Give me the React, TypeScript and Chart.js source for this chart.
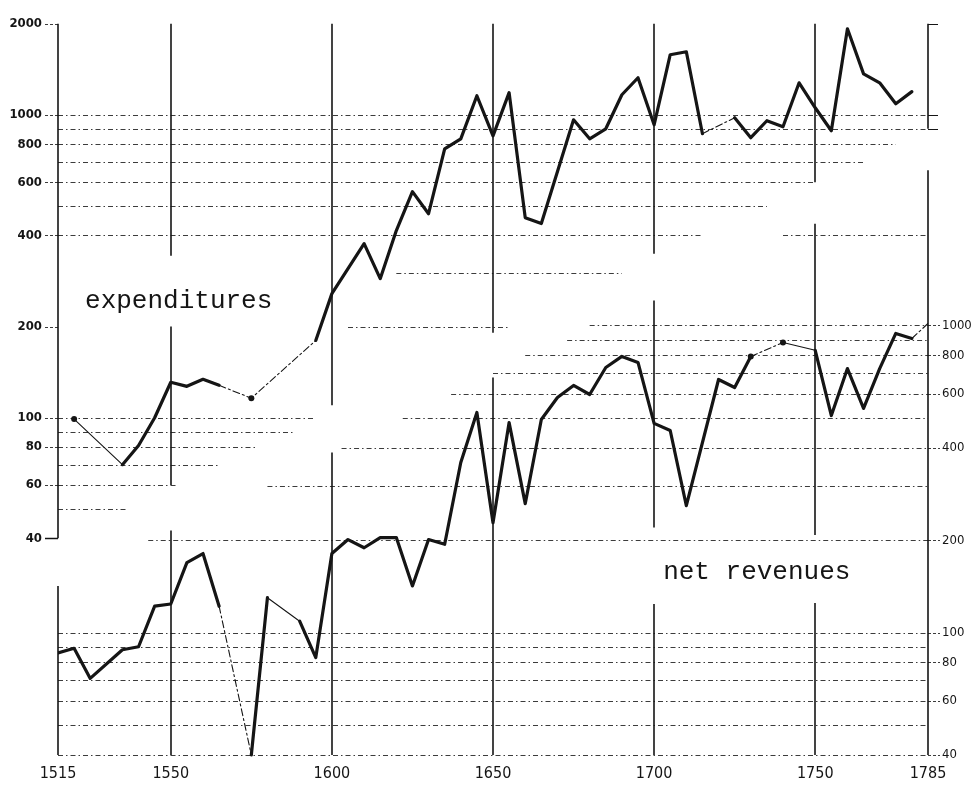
import React, { useEffect, useRef } from 'react';
import { Chart, registerables } from 'chart.js';

Chart.register(...registerables);

// ---- data ----
const xTicks = [1515, 1550, 1600, 1650, 1700, 1750, 1785];
const leftTicks = [2000, 1000, 800, 600, 400, 200, 100, 80, 60, 40];
const rightTicks = [1000, 800, 600, 400, 200, 100, 80, 60, 40];

const expYears = [1520, 1535, 1540, 1545, 1550, 1555, 1560, 1565, 1575, 1595, 1600, 1610, 1615, 1620, 1625, 1630, 1635, 1640, 1645, 1650, 1655, 1660, 1665, 1675, 1680, 1685, 1690, 1695, 1700, 1705, 1710, 1715, 1725, 1730, 1735, 1740, 1745, 1750, 1755, 1760, 1765, 1770, 1775, 1780];
const expValues = [99, 70, 81, 100, 131, 127, 134, 128, 116, 180, 257, 376, 288, 415, 558, 472, 773, 834, 1157, 853, 1185, 458, 438, 964, 834, 900, 1166, 1327, 928, 1581, 1617, 867, 979, 841, 957, 914, 1277, 1056, 887, 1925, 1367, 1277, 1089, 1194];

const revYears = [1515, 1520, 1525, 1535, 1540, 1545, 1550, 1555, 1560, 1565, 1575, 1580, 1590, 1595, 1600, 1605, 1610, 1615, 1620, 1625, 1630, 1635, 1640, 1645, 1650, 1655, 1660, 1665, 1670, 1675, 1680, 1685, 1690, 1695, 1700, 1705, 1710, 1720, 1725, 1730, 1740, 1750, 1755, 1760, 1765, 1770, 1775, 1780, 1785];
const revValues = [86, 89, 71, 88, 90, 122, 124, 169, 181, 122, 40, 130, 109, 83, 181, 201, 189, 204, 204, 142, 201, 194, 358, 521, 228, 483, 263, 494, 583, 638, 596, 730, 793, 758, 480, 455, 259, 667, 628, 793, 880, 830, 509, 724, 537, 724, 942, 907, 1015];

// segments that are drawn thin / dashed (by start year), and marked points
const expThinFrom = [1520, 1565, 1575, 1715];
const expDashFrom = [1565, 1575, 1715];
const expDots = [1520, 1575];
const revThinFrom = [1565, 1580, 1730, 1740, 1780];
const revDashFrom = [1565, 1730, 1780];
const revDots = [1730, 1740];

const expLabel = 'expenditures';
const revLabel = 'net revenues';

// ---- decoration (grid pieces in data units) ----
const leftGrid: [number, number, number][] = [
  [1000, 1515, 1785], [900, 1515, 1785], [800, 1515, 1775], [700, 1515, 1765],
  [600, 1515, 1750], [500, 1515, 1735], [400, 1515, 1715], [400, 1740, 1785],
  [300, 1620, 1690], [200, 1605, 1655], [100, 1515, 1595], [90, 1515, 1588],
  [80, 1515, 1577], [70, 1515, 1565], [60, 1515, 1552], [50, 1515, 1536],
];
const rightGrid: [number, number, number][] = [
  [1000, 1680, 1785], [900, 1673, 1785], [800, 1660, 1785], [700, 1650, 1785],
  [600, 1637, 1785], [500, 1622, 1785], [400, 1603, 1785], [300, 1580, 1785],
  [200, 1543, 1785], [100, 1515, 1785], [90, 1515, 1785], [80, 1515, 1785],
  [70, 1515, 1785], [60, 1515, 1785], [50, 1515, 1785], [40, 1515, 1785],
];
const vSegments: [string, number, number, number][] = [
  ['L', 1515, 2000, 40], ['R', 1515, 142, 40],
  ['L', 1550, 2000, 343], ['L', 1550, 200, 60], ['R', 1550, 215, 40],
  ['L', 1600, 2000, 110], ['R', 1600, 386, 40],
  ['L', 1650, 2000, 191], ['R', 1650, 677, 40],
  ['L', 1700, 2000, 348], ['R', 1700, 1206, 220], ['R', 1700, 124, 40],
  ['L', 1750, 2000, 600], ['L', 1750, 437, 41], ['R', 1750, 125, 40],
  ['L', 1785, 2000, 900], ['R', 1785, 3197, 40],
];
const bracketTicks = [2000, 1000, 900];
const expLabelAt = [1523.4, 242];
const revLabelAt = [1702.8, 157];

const INK = '#151515';
const GRID = '#3c3c3c';
const tickFont = '"Liberation Sans Narrow", "DejaVu Sans Condensed", "Liberation Sans", sans-serif';

const decoPlugin = {
  id: 'deco',
  beforeDatasetsDraw(chart: any) {
    const { ctx, scales } = chart;
    const x = scales.x, yL = scales.yL, yR = scales.yR;
    ctx.save();
    ctx.strokeStyle = GRID;
    ctx.lineWidth = 1;
    ctx.setLineDash([5, 3, 1.5, 3]);
    const hline = (sc: any, v: number, a: number, b: number) => {
      const y = Math.round(sc.getPixelForValue(v)) + 0.5;
      ctx.beginPath();
      ctx.moveTo(x.getPixelForValue(a), y);
      ctx.lineTo(x.getPixelForValue(b), y);
      ctx.stroke();
    };
    leftGrid.forEach(([v, a, b]) => hline(yL, v, a, b));
    rightGrid.forEach(([v, a, b]) => hline(yR, v, a, b));

    // axis tick dashes
    const xl = x.getPixelForValue(1515);
    const xr = x.getPixelForValue(1785);
    ctx.setLineDash([3, 2]);
    leftTicks.forEach((v) => {
      const y = Math.round(yL.getPixelForValue(v)) + 0.5;
      ctx.beginPath(); ctx.moveTo(xl - 13, y); ctx.lineTo(xl, y); ctx.stroke();
    });
    rightTicks.forEach((v) => {
      const y = Math.round(yR.getPixelForValue(v)) + 0.5;
      ctx.beginPath(); ctx.moveTo(xr, y); ctx.lineTo(xr + 12, y); ctx.stroke();
    });
    ctx.setLineDash([]);
    ctx.strokeStyle = INK;
    bracketTicks.forEach((v) => {
      const y = Math.round(yL.getPixelForValue(v)) + 0.5;
      ctx.beginPath(); ctx.moveTo(xr, y); ctx.lineTo(xr + 10, y); ctx.stroke();
    });
    {
      const y = Math.round(yL.getPixelForValue(40)) + 0.5;
      ctx.lineWidth = 1.5;
      ctx.beginPath(); ctx.moveTo(xl - 13, y); ctx.lineTo(xl, y); ctx.stroke();
    }

    // vertical pieces
    ctx.lineWidth = 1.6;
    vSegments.forEach(([ax, yr, a, b]) => {
      const sc = ax === 'L' ? yL : yR;
      const px = Math.round(x.getPixelForValue(yr));
      ctx.beginPath();
      ctx.moveTo(px, sc.getPixelForValue(a));
      ctx.lineTo(px, sc.getPixelForValue(b));
      ctx.stroke();
    });
    ctx.restore();
  },
  afterDraw(chart: any) {
    const { ctx, scales } = chart;
    const x = scales.x, yL = scales.yL, yR = scales.yR;
    ctx.save();
    ctx.fillStyle = INK;
    ctx.font = '26px "Liberation Mono", "DejaVu Sans Mono", monospace';
    ctx.textAlign = 'left';
    ctx.textBaseline = 'middle';
    ctx.fillText(expLabel, x.getPixelForValue(expLabelAt[0]), yL.getPixelForValue(expLabelAt[1]));
    ctx.fillText(revLabel, x.getPixelForValue(revLabelAt[0]), yR.getPixelForValue(revLabelAt[1]));
    ctx.restore();
  },
};

function startYear(ctx: any) {
  return ctx.p0.parsed.x;
}

export default function App() {
  const ref = useRef<HTMLCanvasElement | null>(null);
  useEffect(() => {
    if (!ref.current) return;
    const chart = new Chart(ref.current, {
      type: 'line',
      data: {
        datasets: [
          {
            label: expLabel,
            data: expYears.map((y, i) => ({ x: y, y: expValues[i] })),
            yAxisID: 'yL',
            borderColor: INK,
            backgroundColor: INK,
            borderWidth: 3.2,
            borderJoinStyle: 'round',
            borderCapStyle: 'round',
            tension: 0,
            pointRadius: (c: any) => (expDots.includes(expYears[c.dataIndex]) ? 3 : 0),
            pointBorderWidth: 0,
            segment: {
              borderWidth: (c: any) => (expThinFrom.includes(startYear(c)) ? 1.1 : undefined),
              borderDash: (c: any) => (expDashFrom.includes(startYear(c)) ? [7, 3, 2, 3] : undefined),
            },
          },
          {
            label: revLabel,
            data: revYears.map((y, i) => ({ x: y, y: revValues[i] })),
            yAxisID: 'yR',
            borderColor: INK,
            backgroundColor: INK,
            borderWidth: 3.2,
            borderJoinStyle: 'round',
            borderCapStyle: 'round',
            tension: 0,
            pointRadius: (c: any) => (revDots.includes(revYears[c.dataIndex]) ? 3 : 0),
            pointBorderWidth: 0,
            segment: {
              borderWidth: (c: any) => (revThinFrom.includes(startYear(c)) ? 1.1 : undefined),
              borderDash: (c: any) => (revDashFrom.includes(startYear(c)) ? [7, 3, 2, 3] : undefined),
            },
          },
        ],
      },
      options: {
        animation: false,
        responsive: false,
        events: [],
        layout: { padding: { top: 23, left: 0, right: 0, bottom: 0 } },
        plugins: { legend: { display: false }, tooltip: { enabled: false }, title: { display: false } },
        scales: {
          x: {
            type: 'linear',
            min: 1515,
            max: 1785,
            grid: { display: false, drawTicks: false },
            border: { display: false },
            afterBuildTicks: (s: any) => { s.ticks = xTicks.map((v) => ({ value: v })); },
            afterFit: (s: any) => { s.height = 29; },
            ticks: {
              padding: 7,
              color: INK,
              font: { family: tickFont, size: 16 },
              callback: (v: any) => String(v),
              maxRotation: 0,
              autoSkip: false,
            },
          },
          yL: {
            type: 'logarithmic',
            position: 'left',
            min: 7.58,
            max: 2000,
            grid: { display: false, drawTicks: false },
            border: { display: false },
            afterBuildTicks: (s: any) => { s.ticks = leftTicks.map((v) => ({ value: v })); },
            afterFit: (s: any) => { s.width = 58; },
            ticks: {
              padding: 16,
              color: INK,
              font: { family: tickFont, size: 13, weight: 'bold' },
              callback: (v: any) => String(v),
              autoSkip: false,
            },
          },
          yR: {
            type: 'logarithmic',
            position: 'right',
            min: 39.4,
            max: 9589,
            grid: { display: false, drawTicks: false },
            border: { display: false },
            afterBuildTicks: (s: any) => { s.ticks = rightTicks.map((v) => ({ value: v })); },
            afterFit: (s: any) => { s.width = 51; },
            ticks: {
              padding: 14,
              color: INK,
              font: { family: tickFont, size: 13 },
              callback: (v: any) => String(v),
              autoSkip: false,
            },
          },
        },
      },
      plugins: [decoPlugin],
    } as any);
    return () => chart.destroy();
  }, []);

  return (
    <div style={{ position: 'absolute', left: 0, top: 0, width: 979, height: 786, background: '#fff' }}>
      <canvas ref={ref} width={979} height={786} style={{ display: 'block', width: 979, height: 786 }} />
    </div>
  );
}
